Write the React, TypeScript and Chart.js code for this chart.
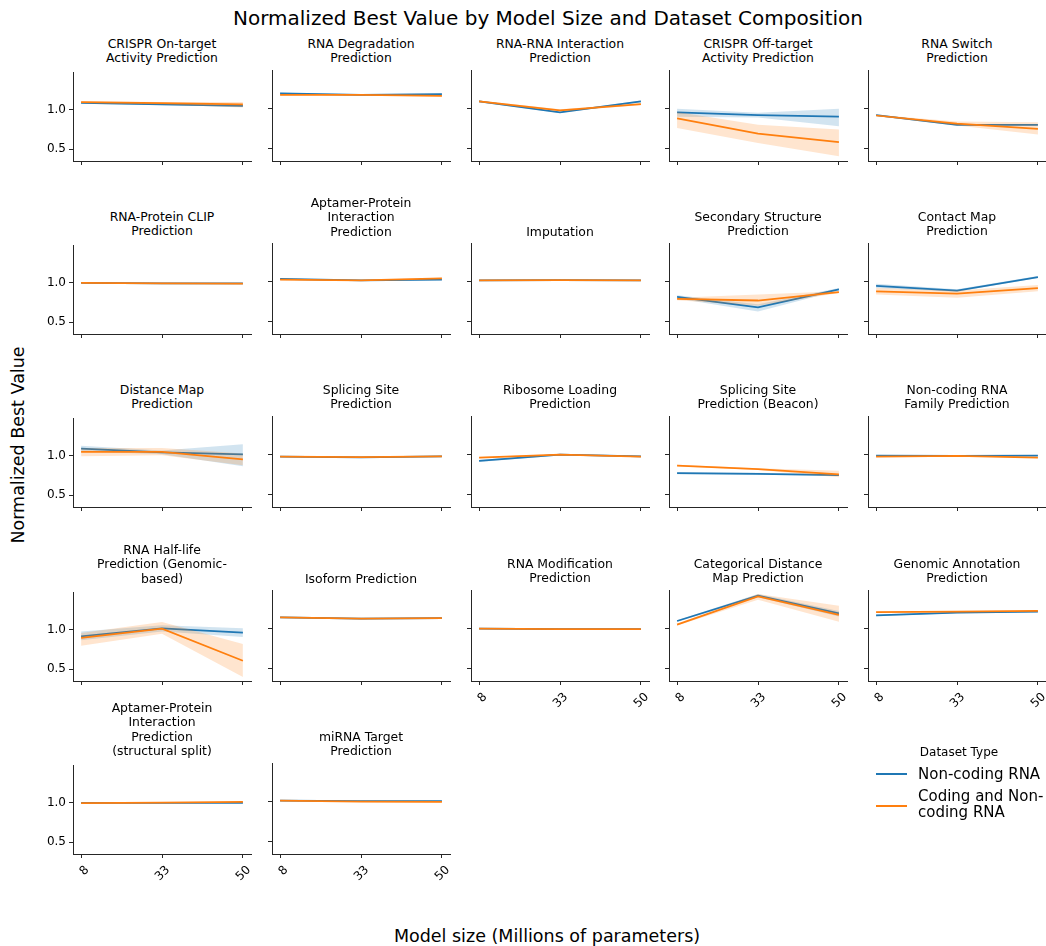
import React, { useEffect, useRef } from 'react';
import { Chart, registerables } from 'chart.js';

Chart.register(...registerables);

// Model sizes (millions of parameters) on the shared x axis
const modelSizes = ['8', '33', '50'];

const taskTitles = [
  'CRISPR On-target\nActivity Prediction',
  'RNA Degradation\nPrediction',
  'RNA-RNA Interaction\nPrediction',
  'CRISPR Off-target\nActivity Prediction',
  'RNA Switch\nPrediction',
  'RNA-Protein CLIP\nPrediction',
  'Aptamer-Protein\nInteraction\nPrediction',
  'Imputation',
  'Secondary Structure\nPrediction',
  'Contact Map\nPrediction',
  'Distance Map\nPrediction',
  'Splicing Site\nPrediction',
  'Ribosome Loading\nPrediction',
  'Splicing Site\nPrediction (Beacon)',
  'Non-coding RNA\nFamily Prediction',
  'RNA Half-life\nPrediction (Genomic-\nbased)',
  'Isoform Prediction',
  'RNA Modification\nPrediction',
  'Categorical Distance\nMap Prediction',
  'Genomic Annotation\nPrediction',
  'Aptamer-Protein\nInteraction\nPrediction\n(structural split)',
  'miRNA Target\nPrediction',
];

// Non-coding RNA pre-training: mean and confidence band per task
const nonCodingMean = [
  [1.09, 1.07, 1.05], [1.19, 1.17, 1.18], [1.09, 0.955, 1.09], [0.955, 0.92, 0.9], [0.92, 0.8, 0.8],
  [1.0, 0.995, 0.995], [1.035, 1.015, 1.025], [1.015, 1.02, 1.015], [0.81, 0.68, 0.905], [0.947, 0.89, 1.057],
  [1.094, 1.045, 1.02], [0.975, 0.967, 0.98], [0.922, 1.0, 0.98], [0.77, 0.762, 0.746], [0.988, 0.984, 0.988],
  [0.918, 1.02, 0.967], [1.14, 1.123, 1.131], [1.0, 0.995, 0.995], [1.095, 1.41, 1.19], [1.165, 1.2, 1.21],
  [1.0, 1.0, 1.0], [1.012, 1.008, 1.008],
];
const nonCodingLow = [
  [1.08, 1.06, 1.04], [1.182, 1.162, 1.172], [1.08, 0.945, 1.08], [0.9, 0.89, 0.78], [0.91, 0.79, 0.79],
  [0.995, 0.99, 0.99], [1.028, 1.008, 1.018], [1.01, 1.015, 1.01], [0.79, 0.63, 0.89], [0.92, 0.875, 1.045],
  [1.06, 1.02, 0.87], [0.97, 0.962, 0.975], [0.91, 0.99, 0.97], [0.758, 0.75, 0.734], [0.983, 0.979, 0.983],
  [0.87, 0.98, 0.91], [1.135, 1.118, 1.126], [0.995, 0.99, 0.99], [1.085, 1.39, 1.15], [1.155, 1.192, 1.202],
  [0.995, 0.995, 0.995], [1.007, 1.003, 1.003],
];
const nonCodingHigh = [
  [1.1, 1.08, 1.06], [1.198, 1.178, 1.188], [1.1, 0.965, 1.1], [1.0, 0.95, 1.0], [0.93, 0.81, 0.81],
  [1.005, 1.0, 1.0], [1.042, 1.022, 1.032], [1.02, 1.025, 1.02], [0.83, 0.72, 0.92], [0.975, 0.905, 1.07],
  [1.13, 1.07, 1.15], [0.98, 0.972, 0.985], [0.934, 1.01, 0.99], [0.782, 0.774, 0.758], [0.993, 0.989, 0.993],
  [0.98, 1.06, 1.02], [1.145, 1.128, 1.136], [1.005, 1.0, 1.0], [1.105, 1.43, 1.22], [1.175, 1.208, 1.218],
  [1.005, 1.005, 1.005], [1.017, 1.013, 1.013],
];

// Coding and non-coding RNA pre-training: mean and confidence band per task
const codingMean = [
  [1.1, 1.085, 1.07], [1.17, 1.17, 1.16], [1.09, 0.98, 1.055], [0.88, 0.69, 0.585], [0.915, 0.815, 0.75],
  [1.0, 0.995, 0.99], [1.025, 1.015, 1.04], [1.015, 1.02, 1.015], [0.787, 0.766, 0.87], [0.88, 0.85, 0.92],
  [1.05, 1.053, 0.955], [0.975, 0.97, 0.98], [0.963, 1.0, 0.975], [0.865, 0.82, 0.754], [0.975, 0.984, 0.963],
  [0.898, 1.016, 0.607], [1.14, 1.123, 1.131], [1.0, 0.995, 0.995], [1.05, 1.4, 1.17], [1.205, 1.21, 1.22],
  [0.996, 1.005, 1.012], [1.012, 1.0, 0.996],
];
const codingLow = [
  [1.09, 1.07, 1.03], [1.162, 1.162, 1.15], [1.078, 0.968, 1.043], [0.76, 0.575, 0.41], [0.905, 0.79, 0.68],
  [0.994, 0.989, 0.984], [1.018, 1.008, 1.033], [1.01, 1.015, 1.01], [0.77, 0.7, 0.86], [0.84, 0.8, 0.88],
  [0.995, 1.01, 0.88], [0.97, 0.965, 0.975], [0.955, 0.992, 0.967], [0.855, 0.81, 0.72], [0.97, 0.979, 0.958],
  [0.8, 0.95, 0.4], [1.135, 1.118, 1.126], [0.995, 0.99, 0.99], [1.04, 1.36, 1.087], [1.198, 1.203, 1.213],
  [0.991, 1.0, 1.007], [1.007, 0.995, 0.991],
];
const codingHigh = [
  [1.11, 1.1, 1.1], [1.178, 1.178, 1.17], [1.102, 0.992, 1.067], [0.96, 0.8, 0.74], [0.925, 0.84, 0.83],
  [1.006, 1.001, 0.996], [1.032, 1.022, 1.047], [1.02, 1.025, 1.02], [0.8, 0.84, 0.88], [0.92, 0.89, 0.96],
  [1.1, 1.1, 1.03], [0.98, 0.975, 0.985], [0.971, 1.008, 0.983], [0.875, 0.83, 0.8], [0.98, 0.989, 0.968],
  [0.96, 1.1, 0.82], [1.145, 1.128, 1.136], [1.005, 1.0, 1.0], [1.06, 1.43, 1.285], [1.212, 1.217, 1.227],
  [1.001, 1.01, 1.017], [1.017, 1.005, 1.001],
];

const yTickValues = [0.5, 1.0];

const BLUE = '#1f77b4';
const ORANGE = '#ff7f0e';
const BLUE_BAND = 'rgba(31,119,180,0.2)';
const ORANGE_BAND = 'rgba(255,127,14,0.2)';
const FONT = "'DejaVu Sans', sans-serif";
const AXIS_COLOR = '#262626';

// facet grid geometry
const COLS = 5;
const AXIS_LEFT0 = 73;
const COL_STEP = 198.75;
const AXIS_W = 178;
const AXIS_TOP0 = 70;
const ROW_STEP = 173.2;
const AXIS_H = 91;
const PAD_L = 45;
const PAD_T = 8;
const PAD_R = 10;
const PAD_B = 40;
const Y_MIN = 0.35;
const Y_MAX = 1.48;

function panelBox(index: number) {
  const row = Math.floor(index / COLS);
  const col = index % COLS;
  const left = Math.round(AXIS_LEFT0 + COL_STEP * col);
  const top = Math.round(AXIS_TOP0 + ROW_STEP * row);
  return { row, col, left, top };
}

const points = (vals: number[]) => vals.map((v, k) => ({ x: k, y: v }));

function Panel({ index }: { index: number }) {
  const ref = useRef<HTMLCanvasElement>(null);
  const { row, col, left, top } = panelBox(index);
  const showX = row === 4 || (row === 3 && col >= 2);
  const showY = col === 0;
  const w = PAD_L + AXIS_W + PAD_R;
  const h = PAD_T + AXIS_H + PAD_B;

  useEffect(() => {
    if (!ref.current) return;
    const meanLine = (vals: number[], color: string) => ({
      data: points(vals),
      borderColor: color,
      borderWidth: 1.75,
      pointRadius: 0,
      fill: false,
      tension: 0,
    });
    const bandEdge = (vals: number[], color: string, fill: any) => ({
      data: points(vals),
      borderColor: 'transparent',
      borderWidth: 0,
      pointRadius: 0,
      backgroundColor: color,
      fill,
      tension: 0,
    });
    const grid = {
      display: true,
      drawOnChartArea: false,
      drawTicks: true,
      tickLength: 4,
      color: AXIS_COLOR,
      lineWidth: 1,
    };
    const border = { display: true, color: AXIS_COLOR, width: 1 };
    const chart = new Chart(ref.current, {
      type: 'line',
      data: {
        datasets: [
          meanLine(codingMean[index], ORANGE),
          bandEdge(codingLow[index], ORANGE_BAND, '+1'),
          bandEdge(codingHigh[index], 'transparent', false),
          meanLine(nonCodingMean[index], BLUE),
          bandEdge(nonCodingLow[index], BLUE_BAND, '+1'),
          bandEdge(nonCodingHigh[index], 'transparent', false),
        ] as any,
      },
      options: {
        animation: false,
        responsive: false,
        maintainAspectRatio: false,
        events: [],
        layout: { padding: { top: PAD_T, right: PAD_R, left: 0, bottom: 0 } },
        plugins: { legend: { display: false }, tooltip: { enabled: false }, title: { display: false } },
        scales: {
          x: {
            type: 'linear',
            min: -0.1,
            max: 2.1,
            afterBuildTicks: (s: any) => {
              s.ticks = modelSizes.map((_, k) => ({ value: k }));
            },
            afterFit: (s: any) => {
              s.height = PAD_B;
            },
            ticks: {
              display: showX,
              minRotation: 45,
              maxRotation: 45,
              padding: 5,
              labelOffset: 6,
              color: '#000',
              font: { family: FONT, size: 12 },
              callback: (_v: any, k: number) => modelSizes[k],
            },
            grid,
            border,
          },
          y: {
            type: 'linear',
            min: Y_MIN,
            max: Y_MAX,
            afterBuildTicks: (s: any) => {
              s.ticks = yTickValues.map((v) => ({ value: v }));
            },
            afterFit: (s: any) => {
              s.width = PAD_L;
            },
            ticks: {
              display: showY,
              padding: 3,
              color: '#000',
              font: { family: FONT, size: 12 },
              callback: (v: any) => Number(v).toFixed(1),
            },
            grid,
            border,
          },
        },
      } as any,
    });
    return () => chart.destroy();
  }, [index, showX, showY]);

  return (
    <>
      <div
        style={{
          position: 'absolute',
          left: left - 10,
          width: AXIS_W + 20,
          top: top - 4,
          transform: 'translateY(-100%)',
          textAlign: 'center',
          whiteSpace: 'pre-line',
          fontFamily: FONT,
          fontSize: 12.4,
          lineHeight: '14.4px',
          color: '#000',
        }}
      >
        {taskTitles[index]}
      </div>
      <canvas
        ref={ref}
        width={w}
        height={h}
        style={{ position: 'absolute', left: left - PAD_L, top: top - PAD_T, width: w, height: h }}
      />
    </>
  );
}

function Legend() {
  const text = { fontFamily: FONT, color: '#000', position: 'absolute' as const };
  return (
    <>
      <div style={{ ...text, left: 870, width: 178, top: 745, fontSize: 12, textAlign: 'center', lineHeight: '15px' }}>
        Dataset Type
      </div>
      <div style={{ position: 'absolute', left: 876, top: 773, width: 31, height: 2, background: BLUE }} />
      <div style={{ ...text, left: 918, top: 765, fontSize: 15, lineHeight: '18px', whiteSpace: 'nowrap' }}>
        Non-coding RNA
      </div>
      <div style={{ position: 'absolute', left: 876, top: 805, width: 31, height: 2, background: ORANGE }} />
      <div style={{ ...text, left: 918, top: 788, fontSize: 15, lineHeight: '16px', whiteSpace: 'pre-line' }}>
        {'Coding and Non-\ncoding RNA'}
      </div>
    </>
  );
}

export default function App() {
  return (
    <div
      style={{
        position: 'absolute',
        left: 0,
        top: 0,
        width: 1046,
        height: 946,
        background: '#fff',
        overflow: 'hidden',
      }}
    >
      <div
        style={{
          position: 'absolute',
          left: 0,
          width: 1096,
          top: 6,
          textAlign: 'center',
          fontFamily: FONT,
          fontSize: 20,
          lineHeight: '24px',
          color: '#000',
        }}
      >
        Normalized Best Value by Model Size and Dataset Composition
      </div>
      {taskTitles.map((_, i) => (
        <Panel key={i} index={i} />
      ))}
      <Legend />
      <div
        style={{
          position: 'absolute',
          left: 18,
          top: 445,
          transform: 'translate(-50%, -50%) rotate(-90deg)',
          whiteSpace: 'nowrap',
          fontFamily: FONT,
          fontSize: 17.5,
          color: '#000',
        }}
      >
        Normalized Best Value
      </div>
      <div
        style={{
          position: 'absolute',
          left: 0,
          width: 1094,
          top: 925,
          textAlign: 'center',
          fontFamily: FONT,
          fontSize: 17.5,
          lineHeight: '22px',
          color: '#000',
        }}
      >
        Model size (Millions of parameters)
      </div>
    </div>
  );
}
